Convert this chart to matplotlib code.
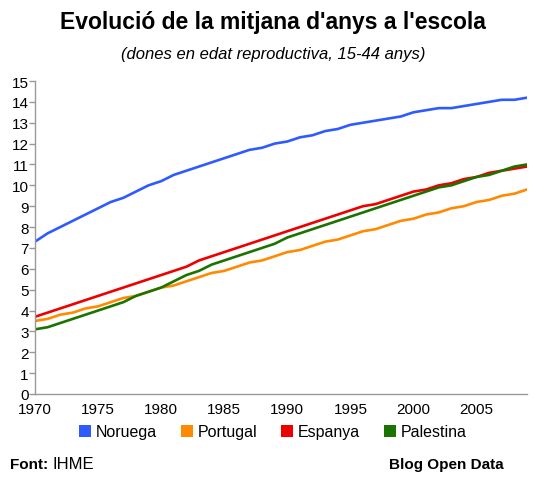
import matplotlib.pyplot as plt
from matplotlib.patches import Patch

plt.rcParams['font.family'] = ['Liberation Sans', 'DejaVu Sans']

anys = list(range(1970, 2010))

noruega = [7.3, 7.7, 8.0, 8.3, 8.6, 8.9, 9.2, 9.4, 9.7, 10.0,
           10.2, 10.5, 10.7, 10.9, 11.1, 11.3, 11.5, 11.7, 11.8, 12.0,
           12.1, 12.3, 12.4, 12.6, 12.7, 12.9, 13.0, 13.1, 13.2, 13.3,
           13.5, 13.6, 13.7, 13.7, 13.8, 13.9, 14.0, 14.1, 14.1, 14.2]
portugal = [3.5, 3.6, 3.8, 3.9, 4.1, 4.2, 4.4, 4.6, 4.7, 4.9,
            5.1, 5.2, 5.4, 5.6, 5.8, 5.9, 6.1, 6.3, 6.4, 6.6,
            6.8, 6.9, 7.1, 7.3, 7.4, 7.6, 7.8, 7.9, 8.1, 8.3,
            8.4, 8.6, 8.7, 8.9, 9.0, 9.2, 9.3, 9.5, 9.6, 9.8]
espanya = [3.7, 3.9, 4.1, 4.3, 4.5, 4.7, 4.9, 5.1, 5.3, 5.5,
           5.7, 5.9, 6.1, 6.4, 6.6, 6.8, 7.0, 7.2, 7.4, 7.6,
           7.8, 8.0, 8.2, 8.4, 8.6, 8.8, 9.0, 9.1, 9.3, 9.5,
           9.7, 9.8, 10.0, 10.1, 10.3, 10.4, 10.6, 10.7, 10.8, 10.9]
palestina = [3.1, 3.2, 3.4, 3.6, 3.8, 4.0, 4.2, 4.4, 4.7, 4.9,
             5.1, 5.4, 5.7, 5.9, 6.2, 6.4, 6.6, 6.8, 7.0, 7.2,
             7.5, 7.7, 7.9, 8.1, 8.3, 8.5, 8.7, 8.9, 9.1, 9.3,
             9.5, 9.7, 9.9, 10.0, 10.2, 10.4, 10.5, 10.7, 10.9, 11.0]

paisos = ['Noruega', 'Portugal', 'Espanya', 'Palestina']
colors = ['#2e5bff', '#ff8a00', '#ee0000', '#1b7300']

fig = plt.figure(figsize=(5.46, 4.81), dpi=100)
ax = fig.add_axes([35 / 546, 1 - 395 / 481, 492 / 546, 313 / 481])

for serie, c in zip([noruega, portugal, espanya, palestina], colors):
    ax.plot(anys, serie, color=c, lw=1.9, solid_joinstyle='round')

ax.set_xlim(1970, 2009)
ax.set_ylim(0, 15)
ax.set_xticks(range(1970, 2010, 5))
ax.set_yticks(range(0, 16))
for s in ['top', 'right']:
    ax.spines[s].set_visible(False)
for s in ['left', 'bottom']:
    ax.spines[s].set_color('#999999')
    ax.spines[s].set_linewidth(1.0)
ax.tick_params(axis='y', length=4, width=1, color='#999999', pad=0.5, labelsize=11)
ax.tick_params(axis='x', length=0, pad=5.5, labelsize=11)

fig.text(0.5, 1 - 22 / 481, "Evolució de la mitjana d'anys a l'escola",
         ha='center', va='center', fontsize=16.5, fontweight='bold')
fig.text(0.5, 1 - 54 / 481, "(dones en edat reproductiva, 15-44 anys)",
         ha='center', va='center', fontsize=12, style='italic')

handles = [Patch(facecolor=c, edgecolor='none') for c in colors]
fig.legend(handles, paisos, loc='center', bbox_to_anchor=(0.5, 1 - 433 / 481),
           ncol=4, frameon=False, fontsize=11.5, handlelength=0.75, handleheight=0.75,
           handletextpad=0.3, columnspacing=1.5)

fig.text(10 / 546, 1 - 465 / 481, "Font:", ha='left', va='center',
         fontsize=11, fontweight='bold')
fig.text(53 / 546, 1 - 465 / 481, "IHME", ha='left', va='center', fontsize=12)
fig.text(504 / 546, 1 - 465 / 481, "Blog Open Data", ha='right', va='center',
         fontsize=11, fontweight='bold')

fig.savefig('out.png', dpi=100)
